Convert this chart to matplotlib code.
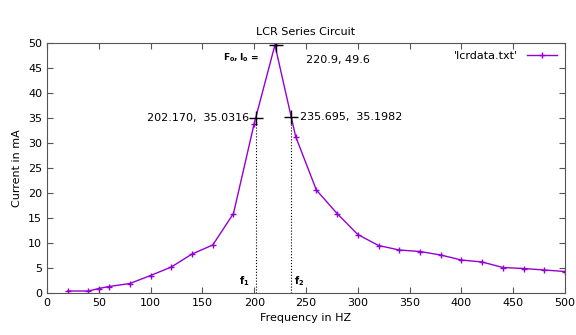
import numpy as np
import matplotlib.pyplot as plt

# data
freq = [20, 40, 50, 60, 80, 100, 120, 140, 160, 180, 200, 220, 240, 260, 280,
        300, 320, 340, 360, 380, 400, 420, 440, 460, 480, 500]
current = [0.4, 0.4, 0.9, 1.3, 1.9, 3.5, 5.2, 7.8, 9.6, 15.9, 33.9, 49.6, 31.3, 20.6, 15.9,
           11.7, 9.5, 8.6, 8.3, 7.6, 6.6, 6.2, 5.1, 4.9, 4.6, 4.3]

f0, i0 = 220.9, 49.6
f1, i1 = 202.170, 35.0316
f2, i2 = 235.695, 35.1982

plt.rcParams['font.family'] = ['DejaVu Sans']
plt.rcParams['font.size'] = 8

fig = plt.figure(figsize=(5.76, 3.35), dpi=100)
ax = fig.add_axes([47 / 576, 1 - 293 / 335, 518 / 576, 250 / 335])

ax.plot(freq, current, color='#9400d3', lw=1, marker='+', ms=5, mew=1,
        label="'lcrdata.txt'")

# marked points
ax.plot([f0, f1, f2], [i0, i1, i2], ls='none', marker='+', ms=10, mew=1, color='black')
ax.plot([f1, f1], [0, i1], ls=':', lw=0.8, color='black')
ax.plot([f2, f2], [0, i2], ls=':', lw=0.8, color='black')

ax.text(170, 47.1, r'$\mathbf{F_0,I_0}$ =', fontsize=6.5, fontweight='bold', va='center')
ax.text(250, 46.7, '220.9, 49.6', va='center')
ax.text(195, 35.03, '202.170,  35.0316', ha='right', va='center')
ax.text(244, 35.2, '235.695,  35.1982', ha='left', va='center')
ax.text(185, 2.4, r'$\mathbf{f_1}$', fontsize=7, va='center')
ax.text(238, 2.4, r'$\mathbf{f_2}$', fontsize=7, va='center')

ax.set_xlim(0, 500)
ax.set_ylim(0, 50)
ax.set_xticks(np.arange(0, 501, 50))
ax.set_yticks(np.arange(0, 51, 5))
ax.tick_params(direction='in', top=True, right=True, length=4, width=0.8,
               color='#555555', labelsize=8)
for s in ax.spines.values():
    s.set_color('#555555')
    s.set_linewidth(0.8)

ax.set_title('LCR Series Circuit', fontsize=8, pad=6)
ax.set_xlabel('Frequency in HZ', fontsize=8)
ax.set_ylabel('Current in mA', fontsize=8)

ax.legend(loc='upper right', frameon=False, markerfirst=False, fontsize=8,
          handlelength=2.7, borderaxespad=0.3)

fig.savefig('out.png', dpi=100)
